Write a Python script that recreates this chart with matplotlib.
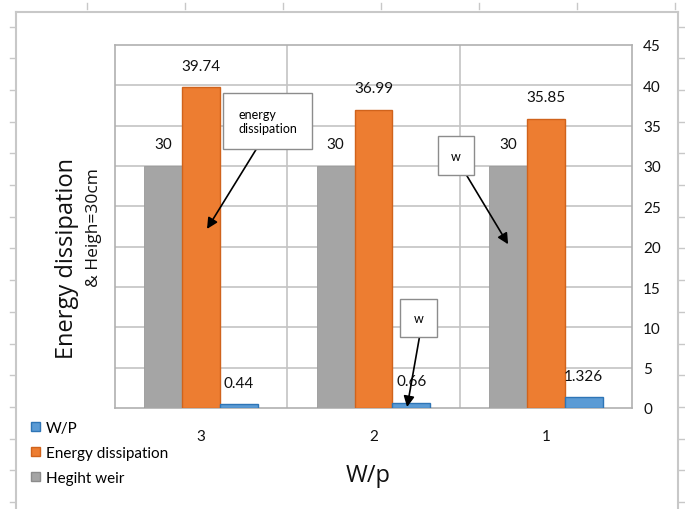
import numpy as np
import matplotlib
matplotlib.use("Agg")
from matplotlib import pyplot as plt
from matplotlib.patches import Patch
from matplotlib.lines import Line2D

plt.rcParams['font.family'] = ['Lato', 'DejaVu Sans']

# chart values
categories = ["3", "2", "1"]
height_weir = [30, 30, 30]
energy_dissipation = [39.74, 36.99, 35.85]
wp_ratio = [0.44, 0.66, 1.326]
wp_labels = ["0.44", "0.66", "1.326"]

W, H = 685, 510
grid_col = "#c4c4c4"
gray_col = "#a5a5a5"
orange_col = "#ed7d31"
blue_col = "#5b9bd5"


def fx(px):
    return px / W


def fy(py):
    return 1 - py / H


fig = plt.figure(figsize=(W / 100, H / 100), dpi=100)
ax = fig.add_axes([fx(115), fy(409), fx(632) - fx(115), fy(46) - fy(409)])

x = np.arange(len(categories))
bw = 0.22
b_gray = ax.bar(x - bw, height_weir, bw, color=gray_col, edgecolor="#999999", linewidth=0.6, zorder=3)
b_orange = ax.bar(x, energy_dissipation, bw, color=orange_col, edgecolor="#d0631c", linewidth=1.0, zorder=3)
b_blue = ax.bar(x + bw, wp_ratio, bw, color=blue_col, edgecolor="#2e75b6", linewidth=1.0, zorder=3)

# value labels above bars
for bars, labels in [(b_gray, [str(v) for v in height_weir]),
                     (b_orange, ["%.2f" % v for v in energy_dissipation]),
                     (b_blue, wp_labels)]:
    for rect, lab in zip(bars, labels):
        ax.annotate(lab, (rect.get_x() + rect.get_width() / 2, rect.get_height()),
                    xytext=(0, 15.5), textcoords="offset points",
                    ha="center", va="center", fontsize=11, color="#111111", zorder=4)

ax.set_xlim(-0.5, 2.5)
ax.set_ylim(0, 45)
ax.set_yticks(np.arange(0, 46, 5))
ax.yaxis.tick_right()
ax.tick_params(axis="y", length=0, pad=8, labelsize=11, labelcolor="#111111")
ax.set_xticks(x)
ax.set_xticklabels(categories)
ax.tick_params(axis="x", length=0, pad=15, labelsize=11, labelcolor="#111111")

# gridlines: horizontal every 5, vertical between categories
for yv in range(5, 45, 5):
    ax.axhline(yv, color=grid_col, lw=1.2, zorder=1)
for xv in [0.5, 1.5]:
    ax.axvline(xv, color=grid_col, lw=1.2, zorder=1)
for s in ax.spines.values():
    s.set_color("#b0b0b0")
    s.set_linewidth(1.2)

# callouts with arrows
arrow = dict(arrowstyle="-|>", color="black", lw=1.2, mutation_scale=16,
             shrinkA=0, shrinkB=0)
box = dict(boxstyle="square,pad=1.2", fc="white", ec="#8c8c8c", lw=1.0)
ax.annotate("energy\ndissipation", xy=(0.034, 22.2), xytext=(0.385, 35.6),
            ha="center", va="center", multialignment="left", fontsize=9,
            bbox=box, arrowprops=dict(arrow, relpos=(0.47, 0.0)), zorder=6)
wbox = dict(boxstyle="square,pad=1.05", fc="white", ec="#8c8c8c", lw=1.0)
ax.annotate("w", xy=(1.781, 20.3), xytext=(1.478, 31.3),
            ha="center", va="center", fontsize=9,
            bbox=wbox, arrowprops=dict(arrow, relpos=(0.6, 0.2), patchA=None), zorder=6)
ax.annotate("w", xy=(1.195, 0.12), xytext=(1.261, 11.2),
            ha="center", va="center", fontsize=9,
            bbox=wbox, arrowprops=dict(arrow, relpos=(0.85, 0.05), patchA=None), zorder=6)

# axis titles
fig.text(fx(67), fy(259), "Energy dissipation", rotation=90, ha="center", va="center",
         fontsize=17, family=["Open Sans", "DejaVu Sans"], color="#111111")
fig.text(fx(94), fy(228), "& Heigh=30cm", rotation=90, ha="center", va="center",
         fontsize=12.5, family=["Open Sans", "DejaVu Sans"], color="#111111")
fig.text(fx(368), fy(476), "W/p", ha="center", va="center", fontsize=17,
         family=["Open Sans", "DejaVu Sans"], color="#111111")

# legend
handles = [Patch(fc=blue_col, ec="#2e75b6"), Patch(fc=orange_col, ec="#d0631c"),
           Patch(fc=gray_col, ec="#8c8c8c")]
fig.legend(handles, ["W/P", "Energy dissipation", "Hegiht weir"],
           loc="upper left", bbox_to_anchor=(fx(31), fy(422)), frameon=False,
           fontsize=11, handlelength=0.6, handleheight=0.6, handletextpad=0.35,
           labelspacing=0.72, borderpad=0, borderaxespad=0)

# page frame with ruler ticks
fc = "#c8c8c8"
fig.add_artist(Line2D([fx(16), fx(678)], [fy(13), fy(13)], color=fc, lw=1.5))
fig.add_artist(Line2D([fx(16), fx(16)], [fy(13), fy(510)], color=fc, lw=1.5))
fig.add_artist(Line2D([fx(678), fx(678)], [fy(13), fy(510)], color=fc, lw=1.5))
for py in np.arange(27.5, 510, 31.7):
    fig.add_artist(Line2D([fx(10), fx(15)], [fy(py), fy(py)], color=fc, lw=1))
    fig.add_artist(Line2D([fx(679), fx(684)], [fy(py), fy(py)], color=fc, lw=1))
for px in np.arange(87, 685, 98):
    fig.add_artist(Line2D([fx(px), fx(px)], [fy(4), fy(10)], color=fc, lw=1))

fig.savefig("out.png", dpi=100)
